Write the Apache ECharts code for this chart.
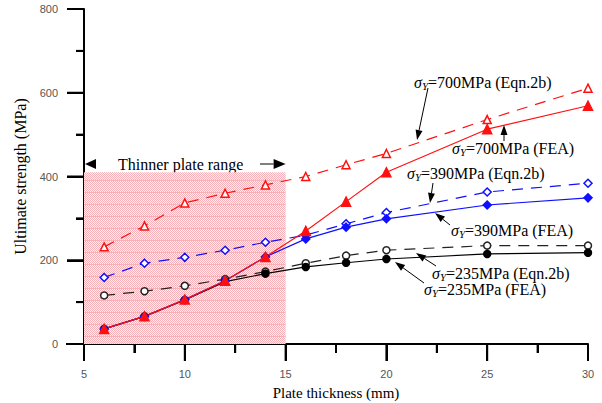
<!DOCTYPE html>
<html>
<head>
<meta charset="utf-8">
<script src="https://cdn.jsdelivr.net/npm/echarts@6/dist/echarts.min.js"></script>
<style>html,body{margin:0;padding:0;background:#fff}#c{width:602px;height:403px}</style>
</head>
<body>
<div id="c"></div>
<script>
// ---- data ----
const thicknessEqn = [6, 8, 10, 12, 14, 16, 18, 20, 25, 30];
const thicknessFEA = [6, 8, 10, 12, 14, 16, 18, 20, 25, 30];
const s700Eqn = [232, 282, 337, 360, 380, 400, 428, 455, 536, 611];
const s700FEA = [36, 66, 106, 151, 208, 270, 340, 410, 513, 569];
const s390Eqn = [159, 193, 207, 224, 243, 260, 287, 314, 363, 384];
const s390FEA = [36, 66, 106, 151, 208, 251, 279, 299, 332, 349];
const s235Eqn = [116, 126, 139, 155, 173, 193, 211, 224, 235, 235];
const s235FEA = [36, 66, 105, 149, 168, 184, 194, 203, 215, 218];
const xTicks = [5, 10, 15, 20, 25, 30];
const yTicks = [0, 200, 400, 600, 800];
const shadeRange = [5, 15];
const shadeTop = 410;
const annotationLabels = [
  {sy: '700', kind: 'Eqn.2b'}, {sy: '700', kind: 'FEA'},
  {sy: '390', kind: 'Eqn.2b'}, {sy: '390', kind: 'FEA'},
  {sy: '235', kind: 'Eqn.2b'}, {sy: '235', kind: 'FEA'}
];

(function () {
  function pairs(xs, ys) { return xs.map((x, i) => [x, ys[i]]); }

  const W = 602, H = 403;
  const gridBox = {left: 84, right: 14, top: 9, bottom: 59};
  const xMin = xTicks[0], xMax = xTicks[xTicks.length - 1];
  const yMin = yTicks[0], yMax = yTicks[yTicks.length - 1];
  function px(t) { return gridBox.left + (t - xMin) / (xMax - xMin) * (W - gridBox.left - gridBox.right); }
  function py(v) { return (H - gridBox.bottom) - (v - yMin) / (yMax - yMin) * (H - gridBox.top - gridBox.bottom); }

  // pink dotted pattern for the shaded region
  const pc = document.createElement('canvas');
  pc.width = 4; pc.height = 12;
  const g = pc.getContext('2d');
  g.fillStyle = '#fff1f2'; g.fillRect(0, 0, 4, 12);
  g.fillStyle = '#f6b0b7';
  for (let yy = 0; yy < 12; yy++) for (let xx = 0; xx < 4; xx++) {
    if ((xx + yy) % 2 === 0 || yy === 0) g.fillRect(xx, yy, 1, 1);
  }
  const patternUrl = pc.toDataURL();

  const serif = 'Liberation Serif';
  const chart = echarts.init(document.getElementById('c'), null, {renderer: 'svg', width: W, height: H});

  function mk(name, xs, ys, color, dashed, symbol, filled, size) {
    return {
      name, type: 'line', data: pairs(xs, ys),
      symbol, symbolSize: size,
      lineStyle: {color, width: 1.2, type: dashed ? [11, 8] : 'solid'},
      itemStyle: {color: filled ? color : '#fff', borderColor: color, borderWidth: 1.5},
      emphasis: {disabled: true}
    };
  }

  const series = [
    mk('700 Eqn', thicknessEqn, s700Eqn, '#ff1010', true, 'triangle', false, 8),
    mk('390 Eqn', thicknessEqn, s390Eqn, '#1010ff', true, 'diamond', false, 8),
    mk('235 Eqn', thicknessEqn, s235Eqn, '#222', true, 'circle', false, 7),
    mk('235 FEA', thicknessFEA, s235FEA, '#000', false, 'circle', true, 7),
    mk('390 FEA', thicknessFEA, s390FEA, '#1010ff', false, 'diamond', true, 8),
    mk('700 FEA', thicknessFEA, s700FEA, '#ff1010', false, 'triangle', true, 9)
  ];
  series[0].markArea = {
    silent: true,
    itemStyle: {color: {image: patternUrl, repeat: 'repeat'}},
    data: [[{xAxis: shadeRange[0], yAxis: 0}, {xAxis: shadeRange[1], yAxis: shadeTop}]]
  };

  // ---- annotations ----
  const labelPos = [[414, 82], [452, 148], [407, 173], [451, 230], [432, 273], [424, 289]];
  const arrows = [
    [[428, 88], [417, 140]],
    [[504, 141], [504, 125]],
    [[433, 183], [430, 203]],
    [[450, 225], [435, 213]],
    [[436, 266], [416, 253]],
    [[424, 283], [395, 262]]
  ];
  function arrow(p0, p1, len, wid) {
    const dx = p1[0] - p0[0], dy = p1[1] - p0[1];
    const L = Math.hypot(dx, dy), ux = dx / L, uy = dy / L;
    const bx = p1[0] - ux * len, by = p1[1] - uy * len;
    return [
      {type: 'line', shape: {x1: p0[0], y1: p0[1], x2: bx, y2: by}, style: {stroke: '#000', lineWidth: 1}, silent: true},
      {type: 'polygon', shape: {points: [p1, [bx - uy * wid / 2, by + ux * wid / 2], [bx + uy * wid / 2, by - ux * wid / 2]]}, style: {fill: '#000'}, silent: true}
    ];
  }
  const rich = {
    s: {fontFamily: serif, fontStyle: 'italic', fontSize: 16, lineHeight: 18, color: '#000'},
    sub: {fontFamily: serif, fontStyle: 'italic', fontSize: 11, lineHeight: 9, verticalAlign: 'bottom', color: '#000'},
    n: {fontFamily: serif, fontSize: 16, lineHeight: 18, color: '#000'}
  };
  const elements = [];

  // axis ticks and axis-line extensions
  function seg(x1, y1, x2, y2) {
    elements.push({type: 'rect', silent: true,
      shape: {x: Math.min(x1, x2) - (x1 === x2 ? 1 : 0), y: Math.min(y1, y2) - (y1 === y2 ? 1 : 0),
              width: Math.abs(x2 - x1) || 2, height: Math.abs(y2 - y1) || 2},
      style: {fill: '#000'}});
  }
  const x0 = px(xMin), y0 = py(yMin);
  seg(x0 - 18, y0, x0, y0);
  seg(x0, y0, x0, y0 + 17);
  for (let v = yMin; v <= yMax; v += 100) {
    const major = v % 200 === 0;
    seg(x0 - (major ? 17 : 8), py(v), x0, py(v));
  }
  for (let t = xMin; t <= xMax + 1e-9; t += 2.5) {
    const major = Math.abs(t % 5) < 1e-9;
    seg(px(t), y0, px(t), y0 + (major ? 17 : 9));
  }

  annotationLabels.forEach((lb, i) => {
    elements.push({
      type: 'text', x: labelPos[i][0], y: labelPos[i][1], silent: true,
      style: {text: '{s|σ}{sub|Y}{n|=' + lb.sy + 'MPa (' + lb.kind + ')}', rich, verticalAlign: 'middle', align: 'left'}
    });
  });
  arrows.forEach(a => elements.push(...arrow(a[0], a[1], 10, 7)));

  // thinner plate range arrow
  const xL = px(shadeRange[0]), xR = px(shadeRange[1]);
  const yArr = 164;
  elements.push({type: 'polygon', silent: true, shape: {points: [[xL + 1, yArr], [xL + 12, yArr - 5], [xL + 12, yArr + 5]]}, style: {fill: '#000'}});
  elements.push({type: 'text', x: 118, y: yArr, silent: true, style: {text: 'Thinner plate range', font: '16px "Liberation Serif"', fill: '#000', verticalAlign: 'middle'}});
  elements.push(...arrow([260, yArr], [xR, yArr], 12, 10));

  const tickStyle = {color: '#000', width: 2};
  chart.setOption({
    animation: false,
    grid: Object.assign({outerBoundsMode: 'none'}, gridBox),
    xAxis: {
      type: 'value', min: xMin, max: xMax, interval: 5,
      name: 'Plate thickness (mm)', nameLocation: 'middle', nameGap: 41,
      nameTextStyle: {fontFamily: serif, fontSize: 15, color: '#000'},
      axisLine: {show: true, lineStyle: {color: '#000', width: 2}},
      axisTick: {show: true, length: 17, lineStyle: tickStyle},
      minorTick: {show: true, splitNumber: 2, length: 9, lineStyle: tickStyle},
      axisLabel: {margin: 24, fontFamily: 'Liberation Sans', fontSize: 11, color: '#555'},
      splitLine: {show: false}
    },
    yAxis: {
      type: 'value', min: yMin, max: yMax, interval: 200,
      name: 'Ultimate strength (MPa)', nameLocation: 'middle', nameGap: 50,
      nameTextStyle: {fontFamily: serif, fontSize: 16, color: '#000'},
      axisLine: {show: true, lineStyle: {color: '#000', width: 2}},
      axisTick: {show: true, length: 17, lineStyle: tickStyle},
      minorTick: {show: true, splitNumber: 2, length: 8, lineStyle: tickStyle},
      axisLabel: {margin: 26, fontFamily: 'Liberation Sans', fontSize: 11, color: '#555'},
      splitLine: {show: false}
    },
    series,
    graphic: {elements}
  });
})();
</script>
</body>
</html>
